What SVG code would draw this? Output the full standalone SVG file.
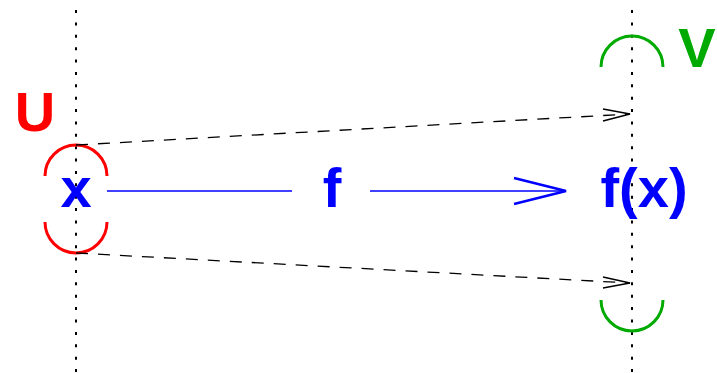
<svg xmlns="http://www.w3.org/2000/svg" width="717" height="373" viewBox="0 0 717 373">
<style>
.dot{stroke:#000;stroke-width:2;stroke-dasharray:3 9.38;fill:none}
.dash{stroke:#000;stroke-width:1.3;stroke-dasharray:12 10;fill:none}
.head{stroke:#000;stroke-width:1.5;fill:none}
.arcU{stroke:#f00;stroke-width:3;fill:none}
.arcV{stroke:#00aa00;stroke-width:3;fill:none}
.lbl{font-family:"Liberation Sans",Arial,sans-serif;font-weight:bold;font-size:56px}
</style>
<rect width="717" height="373" fill="#fff"/>
<g id="axes">
<line class="dot" x1="76" y1="10" x2="76" y2="373"/>
<line class="dot" x1="632" y1="10" x2="632" y2="373"/>
</g>
<g id="U">
<path class="arcU" d="M45,176 A31,31 0 0 1 107,176"/>
<path class="arcU" d="M45,222 A31,31 0 0 0 107,222"/>
<text class="lbl" x="35" y="131" text-anchor="middle" fill="#f00">U</text>
</g>
<g id="V">
<path class="arcV" d="M601,67 A31,31 0 0 1 663,67"/>
<path class="arcV" d="M601,300 A31,31 0 0 0 663,300"/>
<text class="lbl" x="697" y="67" text-anchor="middle" fill="#00aa00">V</text>
</g>
<g id="x">
<text class="lbl" x="76" y="207" text-anchor="middle" fill="#00f">x</text>
</g>
<g id="fx">
<text class="lbl" x="644" y="207" text-anchor="middle" fill="#00f">f(x)</text>
</g>
<g id="connectors">
<line class="dash" x1="76" y1="145" x2="630" y2="114"/>
<polyline class="head" points="603,109 630,114 603,121"/>
<line class="dash" x1="76" y1="253" x2="630" y2="283"/>
<polyline class="head" points="603,277 630,283 603,288"/>
<line x1="107" y1="191" x2="292" y2="191" stroke="#00f" stroke-width="1.5"/>
<line x1="370" y1="191" x2="566" y2="191" stroke="#00f" stroke-width="1.5"/>
<polyline points="514,178 566,191 514,204" stroke="#00f" stroke-width="2.5" fill="none"/>
<text class="lbl" x="332" y="207" text-anchor="middle" fill="#00f">f</text>
</g>
</svg>
